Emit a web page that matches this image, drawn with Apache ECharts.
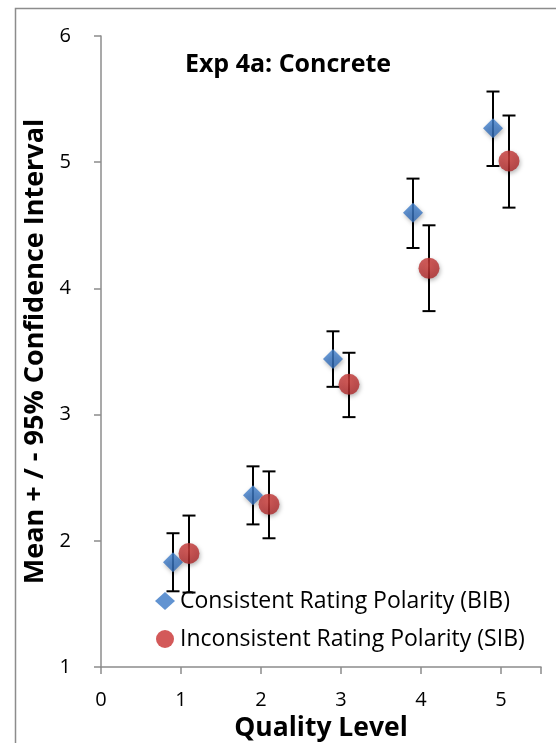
<!DOCTYPE html>
<html>
<head>
<meta charset="utf-8">
<script src="https://cdn.jsdelivr.net/npm/echarts@6/dist/echarts.min.js"></script>
<style>
  html, body { margin: 0; padding: 0; background: #fff; }
  #chart { width: 556px; height: 743px; }
</style>
</head>
<body>
<div id="chart"></div>
<script>
// x positions are offset so the two series sit side by side at each level
const bibX = [0.9, 1.9, 2.9, 3.9, 4.9];
const bibMean = [1.83, 2.36, 3.44, 4.60, 5.27];
const bibLow = [1.60, 2.13, 3.22, 4.32, 4.97];
const bibHigh = [2.06, 2.59, 3.66, 4.87, 5.56];

const sibX = [1.1, 2.1, 3.1, 4.1, 5.1];
const sibMean = [1.90, 2.29, 3.24, 4.16, 5.01];
const sibLow = [1.59, 2.02, 2.98, 3.82, 4.64];
const sibHigh = [2.20, 2.55, 3.49, 4.50, 5.37];

const bibName = 'Consistent Rating Polarity (BIB)';
const sibName = 'Inconsistent Rating Polarity (SIB)';

const font = '"Open Sans", "Noto Sans", sans-serif';

function errorBars(api) {
  const x = api.value(0);
  const top = api.coord([x, api.value(2)]);
  const bot = api.coord([x, api.value(1)]);
  const cap = 6.5;
  const st = { stroke: '#000', lineWidth: 2 };
  return {
    type: 'group',
    children: [
      { type: 'line', shape: { x1: top[0], y1: top[1], x2: bot[0], y2: bot[1] }, style: st },
      { type: 'line', shape: { x1: top[0] - cap, y1: top[1], x2: top[0] + cap, y2: top[1] }, style: st },
      { type: 'line', shape: { x1: bot[0] - cap, y1: bot[1], x2: bot[0] + cap, y2: bot[1] }, style: st }
    ]
  };
}

const chart = echarts.init(document.getElementById('chart'));
chart.setOption({
  animation: false,
  graphic: [{
    type: 'rect', left: 13, top: 6,
    shape: { width: 600, height: 800 },
    style: { fill: 'none', stroke: '#8c8c8c', lineWidth: 1.5 },
    silent: true
  }],
  title: {
    text: 'Exp 4a: Concrete',
    left: 283, top: 47, textAlign: 'center',
    textStyle: { fontFamily: font, fontSize: 25, fontWeight: 'bold', color: '#000' }
  },
  legend: {
    orient: 'vertical',
    left: 150, top: 583,
    itemWidth: 20, itemHeight: 18, itemGap: 12,
    textStyle: { fontFamily: font, fontSize: 23, lineHeight: 26, color: '#000' },
    data: [
      { name: bibName, icon: 'diamond', itemStyle: { color: '#3a78c6' } },
      { name: sibName, icon: 'circle', itemStyle: { color: '#c8302f' } }
    ]
  },
  grid: { left: 101, right: 15, top: 36, bottom: 76, outerBoundsMode: 'none' },
  xAxis: {
    type: 'value', min: 0, max: 5.5, interval: 1,
    name: 'Quality Level', nameLocation: 'middle', nameGap: 43,
    nameTextStyle: { fontFamily: font, fontSize: 26.5, fontWeight: 'bold', color: '#000' },
    axisLine: { lineStyle: { color: '#8c8c8c', width: 1.5 } },
    axisTick: { length: 7, lineStyle: { color: '#8c8c8c', width: 1.5 } },
    axisLabel: {
      fontFamily: font, fontSize: 20, color: '#000', margin: 23,
      formatter: v => (v > 5 ? '' : v)
    },
    splitLine: { show: false }
  },
  yAxis: {
    type: 'value', min: 1, max: 6, interval: 1,
    name: 'Mean + / - 95% Confidence Interval', nameLocation: 'middle', nameGap: 49,
    nameTextStyle: { fontFamily: font, fontSize: 27, fontWeight: 'bold', color: '#000' },
    axisLine: { show: true, lineStyle: { color: '#8c8c8c', width: 1.5 } },
    axisTick: { show: true, length: 7, lineStyle: { color: '#8c8c8c', width: 1.5 } },
    axisLabel: { fontFamily: font, fontSize: 20, color: '#000', margin: 30 },
    splitLine: { show: false }
  },
  series: [
    {
      type: 'custom', name: 'bibErr', renderItem: (p, api) => errorBars(api),
      data: bibX.map((x, i) => [x, bibLow[i], bibHigh[i]]), z: 1, silent: true
    },
    {
      type: 'custom', name: 'sibErr', renderItem: (p, api) => errorBars(api),
      data: sibX.map((x, i) => [x, sibLow[i], sibHigh[i]]), z: 1, silent: true
    },
    {
      type: 'scatter', name: bibName, symbol: 'diamond', symbolSize: 20, z: 3,
      itemStyle: {
        color: new echarts.graphic.LinearGradient(0, 0, 0, 1, [
          { offset: 0, color: '#4585d2' }, { offset: 1, color: '#3069b4' }
        ]),
        shadowColor: 'rgba(0,0,0,0.35)', shadowBlur: 4, shadowOffsetX: 1, shadowOffsetY: 2
      },
      data: bibX.map((x, i) => [x, bibMean[i]])
    },
    {
      type: 'scatter', name: sibName, symbol: 'circle', symbolSize: 21, z: 3,
      itemStyle: {
        color: new echarts.graphic.RadialGradient(0.45, 0.35, 0.7, [
          { offset: 0, color: '#d3403d' }, { offset: 1, color: '#aa2628' }
        ]),
        shadowColor: 'rgba(0,0,0,0.35)', shadowBlur: 4, shadowOffsetX: 1, shadowOffsetY: 2
      },
      data: sibX.map((x, i) => [x, sibMean[i]])
    }
  ]
});
</script>
</body>
</html>
